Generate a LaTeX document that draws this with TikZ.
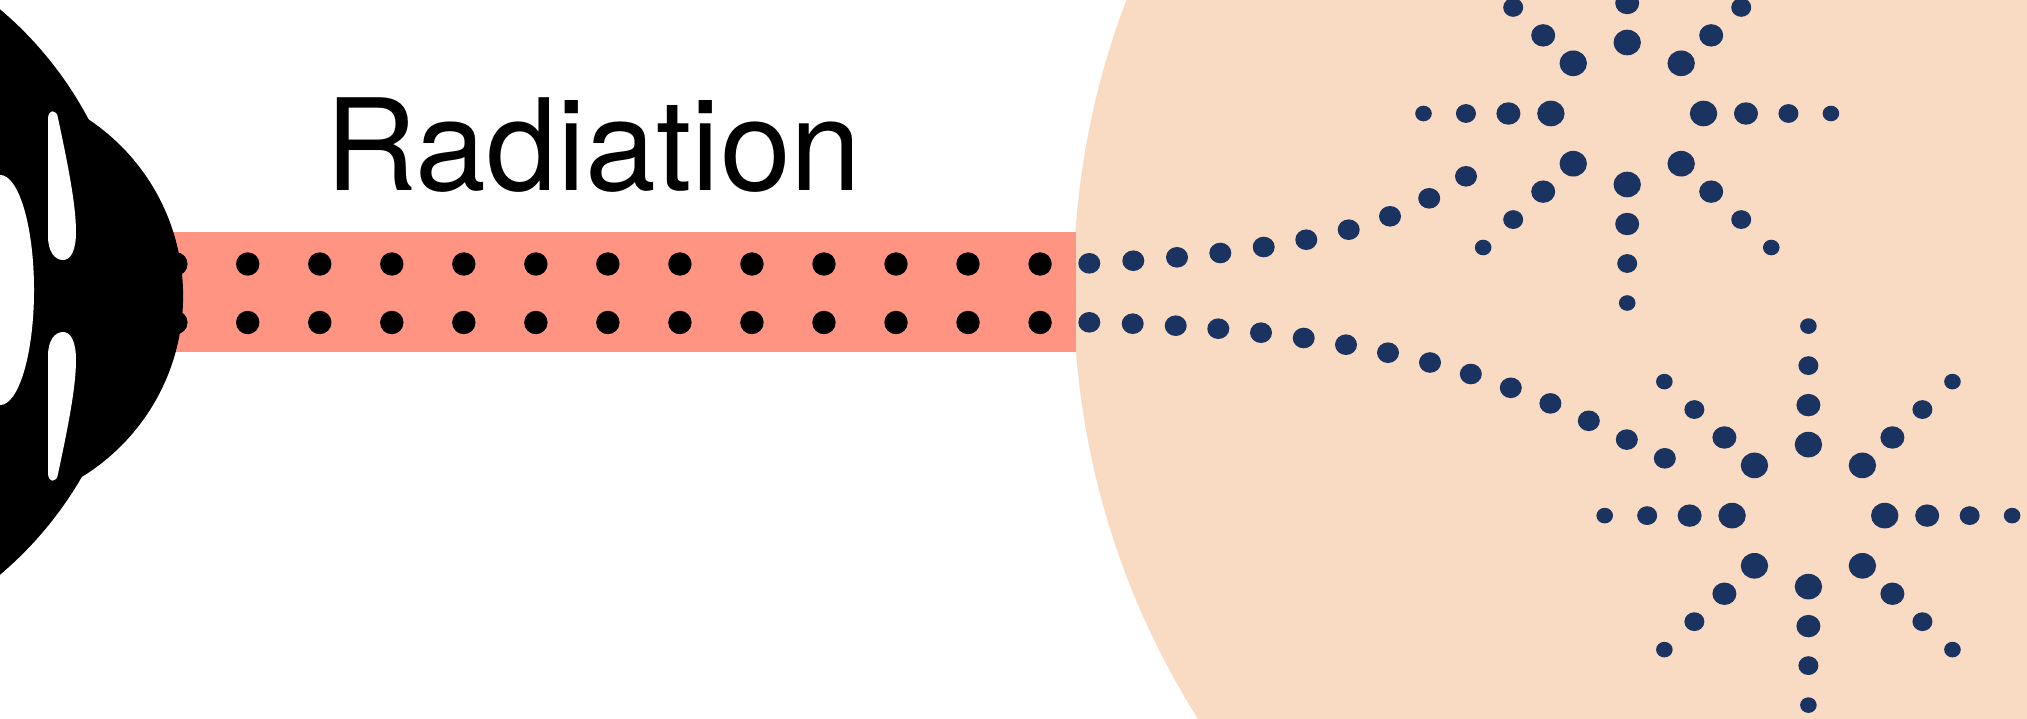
\documentclass[tikz,border=0pt]{standalone}
\usepackage{fontspec}
\setmainfont{TeX Gyre Heros}
\usetikzlibrary{positioning}

\definecolor{peach}{HTML}{F9DBC4}
\definecolor{beam}{HTML}{FF9483}
\definecolor{navy}{HTML}{1B3360}

\begin{document}
\begin{tikzpicture}[
      x=0.01cm, y=-0.01cm,
      lab/.style={font=\fontsize{36.2}{40}\selectfont, inner sep=0, anchor=base west},
      hole/.style={fill=white},
      particle/.style={fill=navy}
    ]
    \useasboundingbox (0,0) rectangle (2027,718);
    \clip (0,0) rectangle (2027,718);

    % target
    \fill[peach] (1881,288) circle [radius=8.07cm];

    % beam
    \fill[beam] (100,232) rectangle (1076,352);
    \foreach \i in {0,...,12}
      \foreach \y in {264,322.5}
        \fill (175.7+72.03*\i,\y) circle [radius=0.117cm];

    % source
    \fill (-239,292) circle [radius=3.7cm];
    \fill (-29,296) circle [radius=2.12cm];
    \foreach \i in {0,...,1}
      \fill (175.7,264+58.5*\i) circle [radius=0.117cm];
    \fill[hole] (0,290) ellipse [x radius=0.34cm, y radius=1.15cm];
    \fill[hole] (48,236) -- (48,119) .. controls (48,109) and (57,109) .. (58,118)
      .. controls (68,165) and (76,205) .. (76,232)
      .. controls (76,250) and (71,260) .. (63,260)
      .. controls (55,260) and (48,252) .. (48,236) -- cycle;
    \fill[hole] (48,356) -- (48,473) .. controls (48,483) and (57,483) .. (58,474)
      .. controls (68,427) and (76,387) .. (76,360)
      .. controls (76,342) and (71,332) .. (63,332)
      .. controls (55,332) and (48,340) .. (48,356) -- cycle;

    % scattered particles
    \foreach \p in {(1089.3,263.3),(1133.3,260.7),(1177,257.3),(1220.3,253),
                    (1263.7,247),(1306.3,239.7),(1348.7,229.7),(1390,216.3),
                    (1429.2,198.3),(1466,176.3),
                    (1089.3,322.3),(1132.7,323.7),(1175.7,325.7),(1218.3,328.7),
                    (1261,332.7),(1303.7,338),(1346,344.7),(1388,352.7),
                    (1430,362.5),(1470.8,374),(1510.8,387.8),(1550.4,403.4),
                    (1588.8,420.8),(1626.8,439.6),(1664.8,458.3)}
      \fill[particle] \p ellipse [x radius=0.11cm, y radius=0.103cm];

    % bursts
    \foreach \cx/\cy in {1627.2/113.5,1808.4/515.6}
      \foreach \r/\rx/\ry in {71/.137/.128,110.5/.12/.112,150/.1/.094,189.5/.083/.078}
        \foreach \a in {0,45,...,315}
          \fill[particle] ({\cx+1.075*\r*cos(\a)},{\cy+\r*sin(\a)})
            ellipse [x radius=\rx cm, y radius=\ry cm];

    \node[lab] (title) at (325,190.7) {Radiation};
  \end{tikzpicture}
\end{document}
